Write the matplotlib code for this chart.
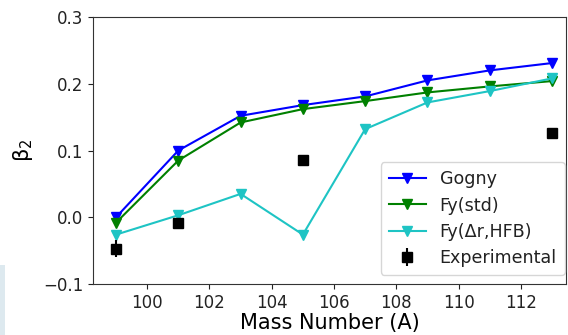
import matplotlib
matplotlib.use("Agg")
import matplotlib.pyplot as plt
from matplotlib.patches import Rectangle

mass = [99, 101, 103, 105, 107, 109, 111, 113]
gogny = [0.000, 0.100, 0.152, 0.168, 0.181, 0.205, 0.220, 0.231]
fy_std = [-0.008, 0.085, 0.142, 0.162, 0.174, 0.187, 0.196, 0.204]
fy_hfb = [-0.026, 0.003, 0.035, -0.026, 0.132, 0.172, 0.189, 0.208]

exp_mass = [99, 101, 105, 113]
exp_beta = [-0.047, -0.009, 0.086, 0.126]
exp_err = [0.013, 0.003, 0.003, 0.003]

plt.rcParams["text.color"] = "#222222"
plt.rcParams["xtick.color"] = "#222222"
plt.rcParams["ytick.color"] = "#222222"
plt.rcParams["axes.edgecolor"] = "#333333"

fig = plt.figure(figsize=(5.68, 3.35), dpi=100)
fig.patches.append(Rectangle((0, 0), 5 / 568, 70 / 335, transform=fig.transFigure,
                             facecolor="#dde9ef", edgecolor="none"))
ax = fig.add_axes([93 / 568, 1 - 284 / 335, (566 - 93) / 568, (284 - 17) / 335])

ax.plot(mass, gogny, "-v", color="blue", lw=1.5, ms=7, label="Gogny")
ax.plot(mass, fy_std, "-v", color="green", lw=1.5, ms=7, label="Fy(std)")
ax.plot(mass, fy_hfb, "-v", color="#1ec4c4", lw=1.5, ms=7, label="Fy(Δr,HFB)")
ax.errorbar(exp_mass, exp_beta, yerr=exp_err, fmt="s", color="black", ms=7,
            elinewidth=1.5, label="Experimental")

ax.set_xlim(98.26, 113.45)
ax.set_ylim(-0.1, 0.3)
ax.set_xticks([100, 102, 104, 106, 108, 110, 112])
ax.set_yticks([-0.1, 0.0, 0.1, 0.2, 0.3])
ax.tick_params(labelsize=12)
ax.set_xlabel("Mass Number (A)", fontsize=15, labelpad=1)
ax.set_ylabel(r"$\mathregular{\beta_2}$", fontsize=15, labelpad=6)
ax.legend(loc="lower right", bbox_to_anchor=(0.997, 0.034), borderaxespad=0,
          fontsize=12.6, handlelength=2.1, labelspacing=0.47, borderpad=0.45)

fig.savefig("out.png", dpi=100)
